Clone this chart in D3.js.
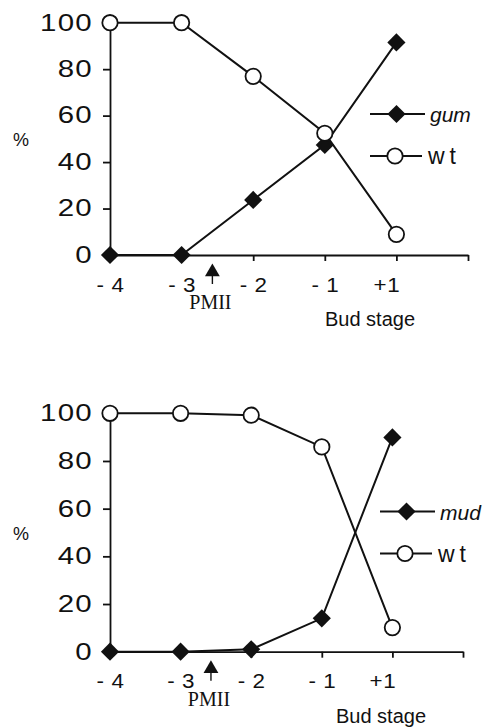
<!DOCTYPE html>
<html>
<head>
    <title>Bud stage</title>
    <script src="https://d3js.org/d3.v7.min.js"></script>
    <style>
        body { margin: 0; background: #fff; }
        text { font-family: "Liberation Sans", Arial, sans-serif; fill: #111; }
    </style>
</head>
<body>
    <svg width="485" height="727"></svg>
    <script>
        // Data
        var stages = ["- 4", "- 3", "- 2", "- 1", "+1"];
        var yTicks = [0, 20, 40, 60, 80, 100];
        var pmiiPos = 1.43; // arrow between -3 and -2

        var gumValues = [0, 0, 23.7, 47.4, 91.5];
        var gumWt = [100, 100, 76.9, 52.4, 8.9];
        var mudValues = [0, 0, 1, 14, 89.9];
        var mudWt = [100, 100, 99.2, 85.9, 10.1];

        var svg = d3.select("svg");

        var panels = [
            { mutant: gumValues, wt: gumWt, name: "gum",
              x0: 110, x1: 468, yTop: 22.7, yBot: 255,
              legX: 370, legY: 114, budX: 370 },
            { mutant: mudValues, wt: mudWt, name: "mud",
              x0: 110, x1: 463, yTop: 413.3, yBot: 651.7,
              legX: 380, legY: 511.5, budX: 381 }
        ];

        var diamond = d3.symbol().type(d3.symbolSquare).size(165);
        var stretchY = 1.28, stretchX = 1.12;

        panels.forEach(function(p) {
            var x = d3.scaleLinear().domain([0, 5]).range([p.x0, p.x1]);
            var y = d3.scaleLinear().domain([0, 100]).range([p.yBot, p.yTop]);
            var g = svg.append("g");

            // x axis
            var xAxis = d3.axisBottom(x)
                .tickValues(d3.range(0, 6))
                .tickFormat(function(i) { return stages[i] || ""; })
                .tickSize(6)
                .tickSizeOuter(0)
                .tickPadding(16.5);
            var xg = g.append("g")
                .attr("transform", "translate(0," + p.yBot + ")")
                .call(xAxis);
            xg.selectAll("text")
                .style("font-size", "20px")
                .style("letter-spacing", "0.5px")
                .attr("fill", "#111")
                .attr("x", function(i) { return (i === 4 ? -10 : 0) / stretchX; })
                .attr("transform", "scale(" + stretchX + ",1)");

            // y axis
            var yAxis = d3.axisLeft(y)
                .tickValues(yTicks)
                .tickSize(7)
                .tickSizeOuter(0);
            var yg = g.append("g")
                .attr("transform", "translate(" + p.x0 + ",0)")
                .call(yAxis);
            yg.selectAll("text")
                .style("font-size", "23px")
                .style("letter-spacing", "1px")
                .attr("fill", "#111")
                .attr("x", -17 / stretchY)
                .attr("transform", "scale(" + stretchY + ",1)");

            g.selectAll(".domain, .tick line")
                .attr("stroke", "#111")
                .attr("stroke-width", 1.8);

            // y label
            g.append("text")
                .attr("x", 21)
                .attr("y", (p.yTop + p.yBot) / 2 + 7.5)
                .attr("text-anchor", "middle")
                .style("font-size", "18px")
                .attr("fill", "#333")
                .text("%");

            // x label
            g.append("text")
                .attr("x", p.budX)
                .attr("y", p.yBot + 71)
                .attr("text-anchor", "middle")
                .style("font-size", "20px")
                .text("Bud stage");

            // PMII arrow
            var ax = x(pmiiPos);
            g.append("line")
                .attr("x1", ax).attr("x2", ax)
                .attr("y1", p.yBot + 20).attr("y2", p.yBot + 29)
                .attr("stroke", "#111").attr("stroke-width", 1.4);
            g.append("path")
                .attr("d", d3.symbol().type(d3.symbolTriangle).size(95)())
                .attr("transform", "translate(" + ax + "," + (p.yBot + 17) + ")")
                .attr("fill", "#111");
            g.append("text")
                .attr("x", ax - 2)
                .attr("y", p.yBot + 54)
                .attr("text-anchor", "middle")
                .style("font-family", "'Liberation Serif', 'Times New Roman', serif")
                .style("font-size", "20px")
                .text("PMII");

            var line = d3.line()
                .x(function(d, i) { return x(i); })
                .y(function(d) { return y(d); });

            [p.mutant, p.wt].forEach(function(vals) {
                g.append("path")
                    .datum(vals)
                    .attr("d", line)
                    .attr("fill", "none")
                    .attr("stroke", "#111")
                    .attr("stroke-width", 2);
            });

            g.selectAll(".dia")
                .data(p.mutant)
                .enter().append("path")
                .attr("d", diamond())
                .attr("transform", function(d, i) {
                    return "translate(" + x(i) + "," + y(d) + ") rotate(45)";
                })
                .attr("fill", "#111");

            g.selectAll(".circ")
                .data(p.wt)
                .enter().append("circle")
                .attr("cx", function(d, i) { return x(i); })
                .attr("cy", function(d) { return y(d); })
                .attr("r", 7.7)
                .attr("fill", "#fff")
                .attr("stroke", "#111")
                .attr("stroke-width", 1.8);

            // legend
            var legend = [
                { label: p.name, mark: "dia", dy: 0, italic: true, len: 55 },
                { label: "wt", mark: "circ", dy: 42, italic: false, len: 52 }
            ];
            legend.forEach(function(l) {
                var ly = p.legY + l.dy;
                g.append("line")
                    .attr("x1", p.legX).attr("x2", p.legX + l.len)
                    .attr("y1", ly).attr("y2", ly)
                    .attr("stroke", "#111").attr("stroke-width", 2);
                if (l.mark === "dia") {
                    g.append("path")
                        .attr("d", diamond())
                        .attr("transform", "translate(" + (p.legX + 26.5) + "," + ly + ") rotate(45)")
                        .attr("fill", "#111");
                } else {
                    g.append("circle")
                        .attr("cx", p.legX + 25).attr("cy", ly).attr("r", 7.7)
                        .attr("fill", "#fff").attr("stroke", "#111").attr("stroke-width", 1.8);
                }
                g.append("text")
                    .attr("x", p.legX + l.len + (l.italic ? 5 : 6))
                    .attr("y", ly + 8)
                    .style("font-size", l.italic ? "21px" : "23px")
                    .style("font-style", l.italic ? "italic" : "normal")
                    .style("letter-spacing", l.italic ? "0px" : "5px")
                    .text(l.label);
            });
        });
    </script>
</body>
</html>
